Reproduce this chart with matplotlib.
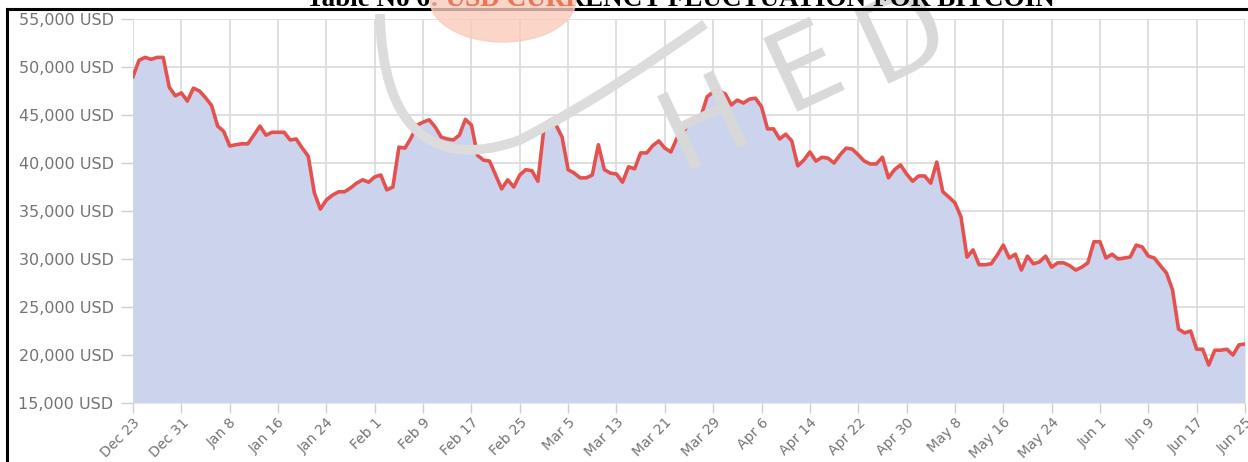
import matplotlib.pyplot as plt
from matplotlib.patches import Ellipse, PathPatch
from matplotlib.path import Path
from matplotlib.transforms import Bbox, TransformedBbox
from matplotlib.ticker import FuncFormatter
import pandas as pd

# daily BTC price in USD, Dec 23 2021 .. Jun 25 2022
price = [
    49000, 50700, 51000, 50800, 51000, 51000, 47900, 47000, 47300, 46450,
    47800, 47500, 46800, 46000, 43850, 43300, 41770, 41900, 42000, 42000,
    42900, 43850, 42900, 43200, 43200, 43200, 42400, 42500, 41560, 40700,
    36900, 35200, 36150, 36650, 37000, 37000, 37400, 37900, 38250, 38000,
    38550, 38750, 37200, 37500, 41650, 41550, 42600, 43950, 44250, 44500,
    43750, 42700, 42500, 42400, 42900, 44550, 43950, 40800, 40300, 40200,
    38750, 37300, 38250, 37500, 38750, 39300, 39200, 38100, 43650, 44450,
    43950, 42700, 39300, 38950, 38450, 38450, 38750, 41900, 39300, 38950,
    38850, 38000, 39600, 39400, 41050, 41050, 41800, 42300, 41550, 41150,
    42600, 43100, 44250, 44700, 44900, 46900, 47400, 47500, 47200, 46050,
    46550, 46250, 46650, 46750, 45850, 43550, 43550, 42500, 43000, 42300,
    39700, 40300, 41150, 40200, 40600, 40500, 40000, 40850, 41550, 41450,
    40850, 40200, 39900, 39900, 40600, 38450, 39300, 39800, 38850, 38100,
    38650, 38650, 37900, 40100, 37000, 36450, 35850, 34400, 30200, 30950,
    29400, 29400, 29500, 30400, 31450, 30100, 30500, 28850, 30300, 29500,
    29700, 30300, 29150, 29600, 29600, 29300, 28850, 29150, 29600, 31800,
    31800, 30100, 30500, 30000, 30100, 30200, 31450, 31250, 30300, 30100,
    29300, 28550, 26800, 22700, 22300, 22500, 20600, 20600, 18950, 20500,
    20500, 20600, 20000, 21050, 21150,
]
dates = pd.date_range("2021-12-23", periods=len(price), freq="D")

y_ticks = [15000, 20000, 25000, 30000, 35000, 40000, 45000, 50000, 55000]
title = "Table No 6: USD CURRENCY FLUCTUATION FOR BITCOIN"

W, H = 1248, 462
fig = plt.figure(figsize=(W / 100, H / 100), dpi=100)
fig.patch.set_facecolor("white")


def px(x, y):
    # pixel position (from top-left) -> figure fraction
    return x / W, 1 - y / H


# faint logo behind the chart
swoosh = Path([px(380, 14), px(382, 125), px(430, 172), px(520, 140),
               px(600, 98), px(650, 62), px(705, 24)],
              [Path.MOVETO, Path.CURVE4, Path.CURVE4, Path.CURVE4,
               Path.CURVE4, Path.CURVE4, Path.CURVE4])
fig.patches.append(PathPatch(swoosh, transform=fig.transFigure, fill=False,
                             lw=7, edgecolor="#dcdcdc", zorder=0))
for letter, (lx, ly) in zip("HED", [(705, 125), (805, 70), (903, 38)]):
    fig.text(*px(lx, ly), letter, fontsize=80, color="#d9d9d9",
             rotation=25, ha="center", va="center", zorder=0,
             family="DejaVu Sans")

ax = fig.add_axes([133 / W, 1 - 403 / H, (1245 - 133) / W, (403 - 19) / H])
ax.set_facecolor("none")
ax.fill_between(dates, price, 15000, color="#ccd3ec", lw=0, zorder=2)
ax.plot(dates, price, color="#e4524f", lw=2.6, zorder=3,
        solid_joinstyle="round")

ax.set_xlim(dates[0], dates[-1])
ax.set_ylim(15000, 55000)
ax.set_yticks(y_ticks)
ax.yaxis.set_major_formatter(FuncFormatter(lambda v, p: f"{int(v):,} USD"))
tick_dates = dates[::8]
ax.set_xticks(tick_dates)
ax.set_xticklabels([f"{d:%b} {d.day}" for d in tick_dates],
                   rotation=45, ha="right", rotation_mode="anchor")

ax.grid(True, color="#dcdcdc", lw=1.3, zorder=1)
ax.set_axisbelow(True)
for s in ax.spines.values():
    s.set_visible(False)
ax.tick_params(axis="y", colors="#d0d0d0", labelcolor="#737373",
               labelsize=11.5, length=9, width=1, pad=5)
ax.tick_params(axis="x", colors="#d0d0d0", labelcolor="#737373",
               labelsize=10, length=7, width=1, pad=2)

# page frame and the clipped caption above it
fig.add_artist(plt.Line2D([7 / W, 1], [1 - 9 / H] * 2,
                          transform=fig.transFigure, color="black", lw=2.2))
fig.add_artist(plt.Line2D([7 / W] * 2, [1 - 9 / H, 0],
                          transform=fig.transFigure, color="black", lw=2.2))
cap_y = 1 - 6 / H
fig.text(680 / W, cap_y, title, ha="center", va="baseline",
         fontsize=19.5, fontweight="bold", family="Liberation Serif",
         color="black", zorder=1)

# orange part of the logo, tinting the caption where they overlap
blob = Ellipse(px(503, 0), 146 / W, 84 / H, transform=fig.transFigure,
               color="#f9cbbb", alpha=0.8, zorder=2)
fig.patches.append(blob)
tinted = fig.text(680 / W, cap_y, title, ha="center", va="baseline",
                  fontsize=19.5, fontweight="bold", family="Liberation Serif",
                  color="#ef7453", zorder=3)
tinted.set_clip_box(TransformedBbox(Bbox([[436 / W, 0], [572 / W, 1]]),
                                    fig.transFigure))
tinted.set_clip_on(True)

fig.savefig("out.png", dpi=100)
